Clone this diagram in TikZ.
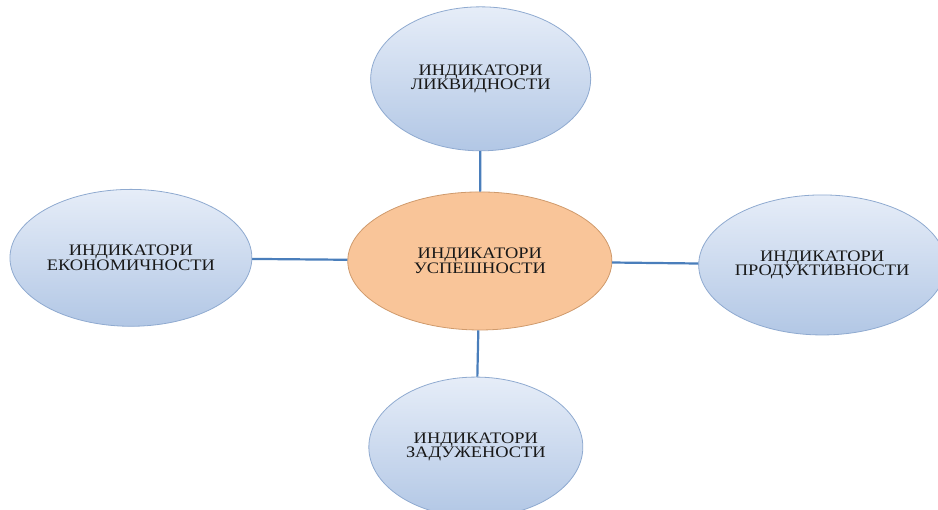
\documentclass[tikz,border=0pt]{standalone}
\usepackage{fontspec}
\setmainfont{Liberation Serif}[FakeStretch=1.15]
\usepackage{xcolor}
\definecolor{ovalblue}{HTML}{B2C7E5}
\definecolor{ovaltop}{HTML}{E6EDF8}
\definecolor{ovalrim}{HTML}{8FAAD0}
\definecolor{coreorange}{HTML}{F9C599}
\definecolor{corerim}{HTML}{CF9A6C}
\definecolor{linkblue}{HTML}{4A7EBB}
\usepackage{tikz}
\usetikzlibrary{shapes.geometric,positioning}

\begin{document}
\begin{tikzpicture}[
      oval/.style={ellipse, draw=ovalrim, line width=0.8pt, top color=ovaltop, bottom color=ovalblue, align=center, inner sep=0pt, text=black!90, font=\fontsize{16}{14.5}\selectfont},
      core/.style={ellipse, draw=corerim, line width=0.8pt, fill=coreorange, align=center, inner sep=0pt, text=black!90, font=\fontsize{16}{14.5}\selectfont},
      link/.style={draw=linkblue, line width=2.2pt}
    ]
    \useasboundingbox (0,0) rectangle (32.96,17.92);
    \node[core, minimum width=9.28cm, minimum height=4.85cm] (succ) at (16.86,8.75) {ИНДИКАТОРИ\\УСПЕШНОСТИ};
    \node[oval, minimum width=7.73cm, minimum height=5.06cm] (liq) at (16.89,15.15) {ИНДИКАТОРИ\\ЛИКВИДНОСТИ};
    \node[oval, minimum width=8.50cm, minimum height=4.81cm] (eco) at (4.60,8.86) {ИНДИКАТОРИ\\ЕКОНОМИЧНОСТИ};
    \node[oval, minimum width=8.43cm, minimum height=4.92cm] (prod) at (28.89,8.61) {ИНДИКАТОРИ\\ПРОДУКТИВНОСТИ};
    \node[oval, minimum width=7.52cm, minimum height=4.92cm] (debt) at (16.72,2.21) {ИНДИКАТОРИ\\ЗАДУЖЕНОСТИ};
    \foreach \o in {liq,eco,prod,debt} { \draw[link] (succ) -- (\o); }
  \end{tikzpicture}
\end{document}
